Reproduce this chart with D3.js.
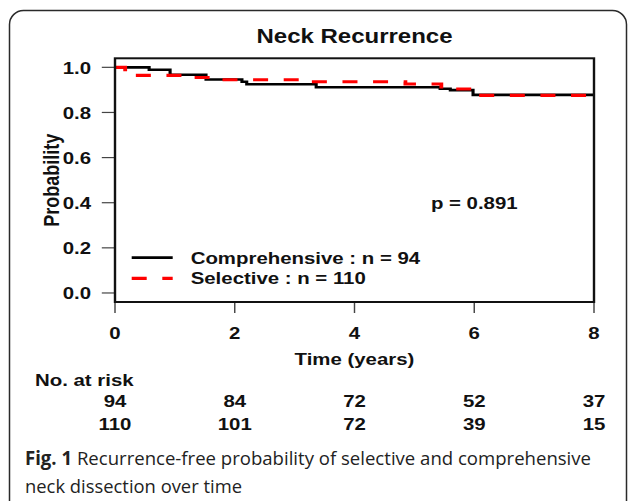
<!DOCTYPE html>
<html>
<head>
<meta charset="utf-8">
<script src="https://cdn.jsdelivr.net/npm/d3@7/dist/d3.min.js"></script>
<style>
  html, body { margin: 0; padding: 0; background: #fff; }
  svg { display: block; }
</style>
</head>
<body>
<svg id="chart" width="629" height="501"></svg>
<script>
// ---- data ----
const title = "Neck Recurrence";
const xTicks = [0, 2, 4, 6, 8];
const yTicks = [0.0, 0.2, 0.4, 0.6, 0.8, 1.0];
const compTimes = [0, 0.57, 0.92, 1.52, 2.12, 2.2, 3.36, 5.43, 5.6, 5.98, 8];
const compSurv  = [1.0, 0.989, 0.967, 0.946, 0.936, 0.925, 0.912, 0.905, 0.899, 0.878, 0.878];
const selTimes  = [0, 0.17, 1.15, 1.75, 3.17, 4.85, 5.45, 6.01, 8];
const selSurv   = [1.0, 0.964, 0.955, 0.945, 0.936, 0.926, 0.904, 0.876, 0.876];
const legendLabels = ["Comprehensive : n = 94", "Selective : n = 110"];
const riskComp = [94, 84, 72, 52, 37];
const riskSel  = [110, 101, 72, 39, 15];
const pText = "p = 0.891";
const captionBold = "Fig. 1";
const captionLine1 = " Recurrence-free probability of selective and comprehensive";
const captionLine2 = "neck dissection over time";

// ---- layout ----
const svg = d3.select("#chart");
const SX = 1.2;           // horizontal stretch of the original figure
const FONT = "'Liberation Sans', Arial, Helvetica, sans-serif";

// outer frame
svg.append("rect")
  .attr("x", 9.5).attr("y", 10.5)
  .attr("width", 617).attr("height", 620)
  .attr("rx", 14).attr("ry", 14)
  .attr("fill", "none").attr("stroke", "#2a2a2a").attr("stroke-width", 1.5);

const g = svg.append("g").attr("transform", `scale(${SX},1)`);

const x = d3.scaleLinear().domain([0, 8]).range([115 / SX, 594 / SX]);
const y = d3.scaleLinear().domain([-0.04, 1.04]).range([302, 58.3]);

// title
g.append("text")
  .attr("x", (x(0) + x(8)) / 2).attr("y", 43.5)
  .attr("text-anchor", "middle")
  .attr("font-family", FONT).attr("font-weight", "bold").attr("font-size", 20)
  .attr("fill", "#111")
  .text(title);

// y axis ticks
const yAxis = g.append("g");
yTicks.forEach(v => {
  yAxis.append("line")
    .attr("x1", x(0) - 11).attr("x2", x(0))
    .attr("y1", y(v)).attr("y2", y(v))
    .attr("stroke", "#444").attr("stroke-width", 1.2);
  yAxis.append("text")
    .attr("x", x(0) - 20).attr("y", y(v) + 6.2)
    .attr("text-anchor", "end")
    .attr("font-family", FONT).attr("font-weight", "bold").attr("font-size", 17)
    .attr("fill", "#111")
    .text(v.toFixed(1));
});

// x axis ticks
const xAxis = g.append("g");
xTicks.forEach(t => {
  xAxis.append("line")
    .attr("x1", x(t)).attr("x2", x(t))
    .attr("y1", 302).attr("y2", 313)
    .attr("stroke", "#444").attr("stroke-width", 1.2);
  xAxis.append("text")
    .attr("x", x(t)).attr("y", 339.5)
    .attr("text-anchor", "middle")
    .attr("font-family", FONT).attr("font-weight", "bold").attr("font-size", 17)
    .attr("fill", "#111")
    .text(t);
});

// axis titles
g.append("text")
  .attr("x", (x(0) + x(8)) / 2).attr("y", 365)
  .attr("text-anchor", "middle")
  .attr("font-family", FONT).attr("font-weight", "bold").attr("font-size", 17)
  .attr("fill", "#111")
  .text("Time (years)");

g.append("text")
  .attr("transform", `translate(${52 / SX + 6},${(y(-0.04) + y(1.04)) / 2}) rotate(-90)`)
  .attr("text-anchor", "middle")
  .attr("font-family", FONT).attr("font-weight", "bold").attr("font-size", 18)
  .attr("fill", "#111")
  .text("Probability");

// curves
const compData = compTimes.map((t, i) => [t, compSurv[i]]);
const selData = selTimes.map((t, i) => [t, selSurv[i]]);
const line = d3.line().x(d => x(d[0])).y(d => y(d[1])).curve(d3.curveStepAfter);

g.append("path").datum(compData)
  .attr("d", line).attr("fill", "none")
  .attr("stroke", "#000").attr("stroke-width", 2.6);
g.append("path").datum(selData)
  .attr("d", line).attr("fill", "none")
  .attr("stroke", "#ff0000").attr("stroke-width", 3.2)
  .attr("stroke-dasharray", "12.5,13");

// plot box
g.append("rect")
  .attr("x", x(0)).attr("y", y(1.04))
  .attr("width", x(8) - x(0)).attr("height", y(-0.04) - y(1.04))
  .attr("fill", "none").attr("stroke", "#111").attr("stroke-width", 2);

// p value
g.append("text")
  .attr("x", x(6)).attr("y", y(0.4) + 6.2)
  .attr("text-anchor", "middle")
  .attr("font-family", FONT).attr("font-weight", "bold").attr("font-size", 17)
  .attr("fill", "#111")
  .text(pText);

// legend
const legX1 = 131.7 / SX, legX2 = 172.7 / SX, legTX = 190.7 / SX;
const legY = [257.7, 278.3];
g.append("line")
  .attr("x1", legX1).attr("x2", legX2).attr("y1", legY[0]).attr("y2", legY[0])
  .attr("stroke", "#000").attr("stroke-width", 2.8);
g.append("line")
  .attr("x1", legX1).attr("x2", legX2).attr("y1", legY[1]).attr("y2", legY[1])
  .attr("stroke", "#ff0000").attr("stroke-width", 3.2)
  .attr("stroke-dasharray", "12.5,13");
legendLabels.forEach((lab, i) => {
  g.append("text")
    .attr("x", legTX).attr("y", legY[i] + 6.2)
    .attr("font-family", FONT).attr("font-weight", "bold").attr("font-size", 17)
    .attr("fill", "#111")
    .text(lab);
});

// number at risk
g.append("text")
  .attr("x", 35 / SX).attr("y", 386.2)
  .attr("font-family", FONT).attr("font-weight", "bold").attr("font-size", 17)
  .attr("fill", "#111")
  .text("No. at risk");
[[riskComp, 407.5], [riskSel, 430]].forEach(([arr, yy]) => {
  arr.forEach((n, i) => {
    g.append("text")
      .attr("x", x(xTicks[i])).attr("y", yy)
      .attr("text-anchor", "middle")
      .attr("font-family", FONT).attr("font-weight", "bold").attr("font-size", 17)
      .attr("fill", "#111")
      .text(n);
  });
});

// caption
const CAP_FONT = "'Open Sans', 'Noto Sans', sans-serif";
const cap1 = svg.append("text")
  .attr("x", 25).attr("y", 465)
  .attr("font-family", CAP_FONT).attr("font-size", 19)
  .attr("fill", "#222")
  .attr("textLength", 566).attr("lengthAdjust", "spacingAndGlyphs");
cap1.append("tspan").attr("font-weight", "bold").text(captionBold);
cap1.append("tspan").text(captionLine1);
svg.append("text")
  .attr("x", 25).attr("y", 493)
  .attr("font-family", CAP_FONT).attr("font-size", 19)
  .attr("fill", "#222")
  .attr("textLength", 217).attr("lengthAdjust", "spacingAndGlyphs")
  .text(captionLine2);
</script>
</body>
</html>
